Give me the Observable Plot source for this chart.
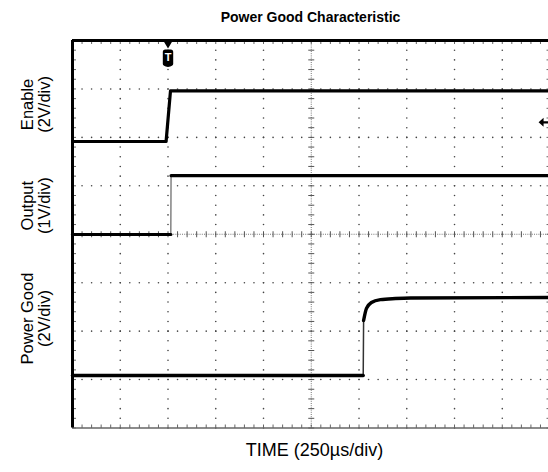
<!DOCTYPE html>
<html>
<head>
<meta charset="utf-8">
<script src="https://cdn.jsdelivr.net/npm/d3@7"></script>
<script src="https://cdn.jsdelivr.net/npm/@observablehq/plot@0.6"></script>
<style>
  html, body { margin: 0; padding: 0; background: #fff; }
</style>
</head>
<body>
<div id="chart"></div>
<script>
// ---- Data (time in µs, 250 µs/div; levels in screen divisions, 0 = bottom, 8 = top) ----
const enableTime  = [0, 490, 513, 2492];
const enableLevel = [5.915, 5.915, 6.96, 6.96];

const outputTime  = [0, 515, 516, 2492];
const outputLevel = [3.995, 3.995, 5.21, 5.21];

const pgTime  = [0, 1522, 1524, 1539, 1565, 1612, 1691, 1770, 2492];
const pgLevel = [1.084, 1.084, 2.22, 2.47, 2.59, 2.65, 2.673, 2.684, 2.694];

const channelLabels = ["Enable\n(2V/div)", "Output\n(1V/div)", "Power Good\n(2V/div)"];
const channelLabelLevel = [6.68, 4.59, 2.26];

const triggerTime = [500];
const triggerLevel = [7.64];
const groundMarkerTime = [2461];
const groundMarkerLevel = [6.31];

const titleText = "Power Good Characteristic";
const xLabelText = "TIME (250\u00B5s/div)";

// ---- helpers ----
const usPerDiv = 250;
const toPts = (t, v, edgeStart, edgeEnd) =>
  t.map((x, i) => ({t: x, v: v[i], phase: x <= edgeStart ? "low" : x >= edgeEnd ? "high" : null}));
const enablePts = toPts(enableTime, enableLevel, 490, 513);
const outputPts = toPts(outputTime, outputLevel, 515, 516);
const pgPts = toPts(pgTime, pgLevel, 1522, 1524);

// graticule
const vLines = d3.range(1, 10).filter(i => i !== 5);
const hLines = d3.range(1, 8).filter(k => k !== 4);
const gridDots = [];
for (const i of vLines) for (let j = 0; j <= 40; j++) gridDots.push({t: i * usPerDiv, v: j * 0.2});
for (const k of hLines) for (let j = 0; j <= 50; j++) gridDots.push({t: j * usPerDiv / 5, v: k});
const minorY = d3.range(0, 41).map(j => j * 0.2);
const minorX = d3.range(0, 51).map(j => j * usPerDiv / 5);

const sym = (f) => ({draw(ctx) { f(ctx); }});
const hTick = sym(c => { c.moveTo(-3, 0); c.lineTo(3, 0); });
const vTick = sym(c => { c.moveTo(0, -3); c.lineTo(0, 3); });
const upTick = sym(c => { c.moveTo(0, 0); c.lineTo(0, -3.5); });
const downTick = sym(c => { c.moveTo(0, 0); c.lineTo(0, 3.5); });
const rightTick = sym(c => { c.moveTo(0, 0); c.lineTo(3.5, 0); });
const leftTick = sym(c => { c.moveTo(0, 0); c.lineTo(-3.5, 0); });
const triggerSym = sym(c => {
  // downward triangle on the top edge
  c.moveTo(-4.5, -17); c.lineTo(4.5, -17); c.lineTo(0, -9.5); c.closePath();
  // rounded badge
  const w = 5.2, top = -8.5, bot = 9, r = 2.5;
  c.moveTo(-w + r, top); c.lineTo(w - r, top);
  c.quadraticCurveTo(w, top, w, top + r);
  c.lineTo(w, bot - 3); c.quadraticCurveTo(w, bot - 1, 0, bot);
  c.quadraticCurveTo(-w, bot - 1, -w, bot - 3);
  c.lineTo(-w, top + r); c.quadraticCurveTo(-w, top, -w + r, top);
  c.closePath();
});
const arrowSym = sym(c => {
  c.moveTo(-4, 0); c.lineTo(1, -4.5); c.lineTo(1, -1.2); c.lineTo(6, -1.2);
  c.lineTo(6, 1.2); c.lineTo(1, 1.2); c.lineTo(1, 4.5); c.closePath();
});

const fam = "Liberation Sans, Arial, Helvetica, sans-serif";

const chart = Plot.plot({
  width: 548,
  height: 472,
  marginLeft: 72,
  marginRight: 0,
  marginTop: 40,
  marginBottom: 44.5,
  x: {domain: [0, 2492], axis: null},
  y: {domain: [0, 8], axis: null},
  style: {fontFamily: fam, background: "#fff", overflow: "visible"},
  marks: [
    // graticule dots
    Plot.dot(gridDots, {x: "t", y: "v", r: 0.8, fill: "#444", stroke: null}),
    // center cross with ticks
    Plot.ruleX([5 * usPerDiv], {stroke: "#777", strokeWidth: 1, strokeDasharray: "1,1.2"}),
    Plot.ruleY([4], {stroke: "#777", strokeWidth: 1, strokeDasharray: "1,1.2"}),
    Plot.dot(minorY, {x: () => 5 * usPerDiv, y: d => d, symbol: hTick, stroke: "#555", strokeWidth: 1, r: 3}),
    Plot.dot(minorX, {x: d => d, y: () => 4, symbol: vTick, stroke: "#555", strokeWidth: 1, r: 3}),
    // edge ticks
    Plot.dot(minorX, {x: d => d, y: () => 0, symbol: upTick, stroke: "#666", strokeWidth: 1, r: 3}),
    Plot.dot(minorX, {x: d => d, y: () => 8, symbol: downTick, stroke: "#666", strokeWidth: 1, r: 3}),
    Plot.dot(minorY, {x: () => 0, y: d => d, symbol: rightTick, stroke: "#666", strokeWidth: 1, r: 3}),
    Plot.dot(minorY, {x: () => 10 * usPerDiv, y: d => d, symbol: leftTick, stroke: "#666", strokeWidth: 1, r: 3}),
    // frame
    Plot.ruleY([0], {stroke: "#666", strokeWidth: 1.5}),
    Plot.ruleY([8], {stroke: "#000", strokeWidth: 3}),
    Plot.ruleX([0], {stroke: "#000", strokeWidth: 3}),
    // traces: thin full trace (edges) + thick settled segments
    Plot.line(enablePts, {x: "t", y: "v", stroke: "#000", strokeWidth: 3.2}),
    Plot.line(outputPts, {x: "t", y: "v", stroke: "#444", strokeWidth: 1}),
    Plot.line(outputPts, {x: "t", y: "v", z: "phase", filter: d => d.phase != null, stroke: "#000", strokeWidth: 3.2}),
    Plot.line(pgPts, {x: "t", y: "v", stroke: "#333", strokeWidth: 1.5}),
    Plot.line(pgPts, {x: "t", y: "v", z: "phase", filter: d => d.phase != null, stroke: "#000", strokeWidth: 3.4, curve: "monotone-x"}),
    // trigger marker
    Plot.dot(triggerTime, {x: d => d, y: (d, i) => triggerLevel[i], symbol: triggerSym, fill: "#000", stroke: null, r: 5}),
    Plot.text(triggerTime, {x: d => d, y: (d, i) => triggerLevel[i], text: () => "T", fill: "#fff", fontWeight: "bold", fontSize: 11, dy: -0.5}),
    // ground marker arrow
    Plot.dot(groundMarkerTime, {x: d => d, y: (d, i) => groundMarkerLevel[i], symbol: arrowSym, fill: "#000", stroke: null, r: 5}),
    // channel labels
    Plot.text(channelLabels, {
      frameAnchor: "left", dx: -36.5, y: (d, i) => channelLabelLevel[i], text: d => d,
      rotate: -90, fontSize: 16.5, lineHeight: 1.05, textAnchor: "middle", lineAnchor: "middle", fill: "#000"
    }),
    // title
    Plot.text([titleText], {frameAnchor: "top", dy: -23, text: d => d, fontSize: 14, fontWeight: "bold", lineAnchor: "middle", fill: "#000"}),
    // x label
    Plot.text([xLabelText], {frameAnchor: "bottom", dx: 4, dy: 22.5, text: d => d, fontSize: 18, lineAnchor: "middle", fill: "#000"})
  ]
});
document.getElementById("chart").appendChild(chart);
</script>
</body>
</html>
